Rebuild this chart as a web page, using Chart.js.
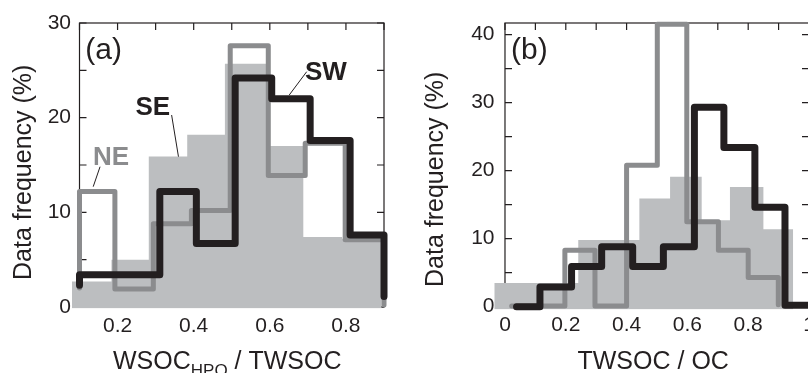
<!DOCTYPE html>
<html>
<head>
<meta charset="utf-8">
<title>Data frequency histograms</title>
<script src="https://cdn.jsdelivr.net/npm/chart.js@4.4.1/dist/chart.umd.min.js"></script>
<style>
  html, body { margin: 0; padding: 0; background: #ffffff; overflow: hidden; }
  #wrap { position: relative; width: 808px; height: 373px; overflow: hidden; background: #ffffff; }
  #wrap canvas { position: absolute; top: 0; }
  #chartA { left: 0; }
  #chartB { left: 404px; }
</style>
</head>
<body>
<div id="wrap">
  <canvas id="chartA" width="404" height="373"></canvas>
  <canvas id="chartB" width="405" height="373"></canvas>
</div>
<script>
// ---------------- panel (a): WSOC_HPO / TWSOC ----------------
const aXTickLabels = ['0.2', '0.4', '0.6', '0.8'];
const aYTickLabels = ['0', '10', '20', '30'];
// histogram steps: edge x and the level that starts at that edge (last = end level)
const aSEEdges  = [0.080, 0.184, 0.282, 0.383, 0.482, 0.591, 0.688, 0.790, 0.894];
const aSEValues = [2.7, 5.0, 15.9, 18.2, 25.7, 17.0, 7.4, 7.2, 0];
const aNEEdges  = [0.1, 0.1, 0.193, 0.294, 0.394, 0.496, 0.596, 0.693, 0.798, 0.9];
const aNEValues = [2.0, 12.2, 1.9, 8.8, 10.2, 27.6, 13.9, 17.3, 7.1, 0.2];
const aSWEdges  = [0.1, 0.1, 0.311, 0.407, 0.509, 0.605, 0.706, 0.811, 0.9];
const aSWValues = [2.3, 3.4, 12.2, 6.7, 24.2, 22.0, 17.6, 7.6, 1.1];

// ---------------- panel (b): TWSOC / OC ----------------
const bXTickLabels = ['0', '0.2', '0.4', '0.6', '0.8', '1'];
const bYTickLabels = ['0', '10', '20', '30', '40'];
const bSEEdges  = [-0.038, 0.241, 0.442, 0.543, 0.647, 0.740, 0.850, 0.948];
const bSEValues = [3.5, 9.8, 15.9, 19.1, 12.7, 17.6, 11.4, 0];
const bNEEdges  = [0.022, 0.197, 0.296, 0.400, 0.501, 0.598, 0.702, 0.800, 0.899];
const bNEValues = [0.1, 8.3, 0.1, 20.8, 41.5, 12.5, 8.3, 4.3, 0.3];
const bSWEdges  = [0.038, 0.115, 0.219, 0.318, 0.420, 0.521, 0.623, 0.720, 0.822, 0.921, 1.0];
const bSWValues = [0, 2.9, 5.9, 8.8, 5.9, 8.8, 29.3, 23.4, 14.6, 0.2, 0.2];

// ---------------- styles ----------------
const FONT = "'Liberation Sans', Arial, Helvetica, sans-serif";
const INK = '#231f20';
const NE_COLOR = '#8b8c8e';
const SE_COLOR = '#bcbec0';
const SW_COLOR = '#231f20';
const TICK_LEN = 7;

function labelFor(v, labels) {
  const l = labels.find(t => Math.abs(parseFloat(t) - v) < 1e-6);
  return l === undefined ? '' : l;
}
function toPoints(edges, values) {
  return edges.map((x, i) => ({ x: x, y: values[i] }));
}

const panelPlugin = {
  id: 'panel',
  beforeDatasetsDraw(chart, args, o) {
    const ctx = chart.ctx, xs = chart.scales.x, ys = chart.scales.y;
    const L = xs.getPixelForValue(o.xFrom), R = xs.getPixelForValue(o.xTo);
    const B = ys.getPixelForValue(o.yFrom), T = ys.getPixelForValue(o.yTo);
    ctx.save();
    ctx.strokeStyle = INK;
    ctx.lineWidth = 1.2;
    ctx.strokeRect(L, T, R - L, B - T);
    ctx.beginPath();
    xs.ticks.forEach(t => {
      if (t.value < o.xFrom - 1e-9 || t.value > o.xTo + 1e-9) return;
      const p = xs.getPixelForValue(t.value);
      ctx.moveTo(p, T); ctx.lineTo(p, T + TICK_LEN);
      ctx.moveTo(p, B); ctx.lineTo(p, B - TICK_LEN);
    });
    ys.ticks.forEach(t => {
      if (t.value < o.yFrom - 1e-9 || t.value > o.yTo + 1e-9) return;
      const p = ys.getPixelForValue(t.value);
      ctx.moveTo(L, p); ctx.lineTo(L + TICK_LEN, p);
      ctx.moveTo(R, p); ctx.lineTo(R - TICK_LEN, p);
    });
    ctx.stroke();
    ctx.restore();
  },
  afterDraw(chart, args, o) {
    const ctx = chart.ctx, xs = chart.scales.x, ys = chart.scales.y;
    ctx.save();
    ctx.textAlign = 'left';
    ctx.textBaseline = 'alphabetic';
    // panel letter
    ctx.fillStyle = INK;
    ctx.font = '30px ' + FONT;
    ctx.fillText(o.letter.text, xs.getPixelForValue(o.letter.x), ys.getPixelForValue(o.letter.y));
    // series labels with leader lines
    (o.notes || []).forEach(n => {
      ctx.font = 'bold 26px ' + FONT;
      ctx.fillStyle = n.color;
      ctx.fillText(n.text, xs.getPixelForValue(n.x), ys.getPixelForValue(n.y));
      ctx.strokeStyle = INK;
      ctx.lineWidth = 1;
      ctx.beginPath();
      ctx.moveTo(xs.getPixelForValue(n.lead[0][0]), ys.getPixelForValue(n.lead[0][1]));
      ctx.lineTo(xs.getPixelForValue(n.lead[1][0]), ys.getPixelForValue(n.lead[1][1]));
      ctx.stroke();
    });
    // y title
    ctx.fillStyle = INK;
    ctx.save();
    ctx.translate(o.yTitle.x - o.offsetX, o.yTitle.y);
    ctx.rotate(-Math.PI / 2);
    ctx.font = '25px ' + FONT;
    ctx.fillText(o.yTitle.text, 0, 0);
    ctx.restore();
    // x title (with optional subscript parts)
    let x = o.xTitle.x - o.offsetX;
    o.xTitle.parts.forEach(p => {
      ctx.font = p.size + 'px ' + FONT;
      ctx.fillText(p.text, x, o.xTitle.y + (p.dy || 0));
      x += ctx.measureText(p.text).width;
    });
    ctx.restore();
  }
};

function histChart(canvasId, c) {
  return new Chart(document.getElementById(canvasId), {
    type: 'line',
    data: {
      datasets: [
        { label: 'SW', data: toPoints(c.swEdges, c.swValues), borderColor: SW_COLOR, borderWidth: 7,
          stepped: 'before', fill: false, pointRadius: 0, borderCapStyle: 'round', borderJoinStyle: 'round',
          clip: false, order: 0 },
        { label: 'NE', data: toPoints(c.neEdges, c.neValues), borderColor: NE_COLOR, borderWidth: 5,
          stepped: 'before', fill: false, pointRadius: 0, borderCapStyle: 'round', borderJoinStyle: 'round',
          clip: false, order: 1 },
        { label: 'SE', data: toPoints(c.seEdges, c.seValues), borderColor: 'rgba(0,0,0,0)', borderWidth: 1,
          backgroundColor: SE_COLOR, stepped: 'before', fill: { value: c.yMin }, pointRadius: 0,
          clip: false, order: 2 }
      ]
    },
    options: {
      responsive: false,
      animation: false,
      devicePixelRatio: 1,
      events: [],
      layout: { padding: { top: 23, right: c.padRight, bottom: 0, left: 0 } },
      plugins: {
        legend: { display: false },
        tooltip: { enabled: false },
        panel: c.panel
      },
      scales: {
        x: {
          type: 'linear', position: 'bottom', min: c.xMin, max: c.xMax,
          grid: { display: false, drawTicks: false }, border: { display: false },
          ticks: { stepSize: 0.1, autoSkip: false, maxRotation: 0, minRotation: 0, includeBounds: false,
                   padding: c.xPad, color: INK, font: { family: FONT, size: 21 },
                   callback: v => labelFor(v, c.xLabels) },
          afterFit: s => { s.height = c.xHeight; s.paddingLeft = 0; s.paddingRight = 0; }
        },
        y: {
          type: 'linear', position: 'left', min: c.yMin, max: c.yMax,
          grid: { display: false, drawTicks: false }, border: { display: false },
          ticks: { stepSize: 5, autoSkip: false, includeBounds: false,
                   padding: c.yPad, color: INK, font: { family: FONT, size: 21 },
                   callback: v => labelFor(v, c.yLabels) },
          afterFit: s => { s.width = c.yWidth; s.paddingTop = 0; s.paddingBottom = 0; }
        }
      }
    },
    plugins: [panelPlugin]
  });
}

histChart('chartA', {
  seEdges: aSEEdges, seValues: aSEValues, neEdges: aNEEdges, neValues: aNEValues,
  swEdges: aSWEdges, swValues: aSWValues,
  xLabels: aXTickLabels, yLabels: aYTickLabels,
  xMin: 0.08, xMax: 0.9, yMin: -0.15, yMax: 30,
  xHeight: 64.58, yWidth: 71.89, padRight: 20, xPad: 5.5, yPad: 0.9,
  panel: {
    offsetX: 0, xFrom: 0.1, xTo: 0.9, yFrom: 0, yTo: 30,
    letter: { text: '(a)', x: 0.115, y: 26.2 },
    notes: [
      { text: 'NE', x: 0.1355, y: 15.0, color: NE_COLOR, lead: [[0.154, 14.82], [0.136, 12.71]] },
      { text: 'SE', x: 0.247, y: 20.28, color: INK, lead: [[0.342, 20.28], [0.36, 15.88]] },
      { text: 'SW', x: 0.6925, y: 23.98, color: INK, lead: [[0.697, 24.86], [0.651, 22.39]] }
    ],
    yTitle: { text: 'Data frequency (%)', x: 31, y: 280 },
    xTitle: { x: 113, y: 369, parts: [
      { text: 'WSOC', size: 25 }, { text: 'HPO', size: 17, dy: 7 }, { text: ' / TWSOC', size: 25 }
    ] }
  }
});

histChart('chartB', {
  seEdges: bSEEdges, seValues: bSEValues, neEdges: bNEEdges, neValues: bNEValues,
  swEdges: bSWEdges, swValues: bSWValues,
  xLabels: bXTickLabels, yLabels: bYTickLabels,
  xMin: -0.0345, xMax: 1.0, yMin: -0.4, yMax: 41.7,
  xHeight: 63.58, yWidth: 90.5, padRight: 0, xPad: 3.5, yPad: 0,
  panel: {
    offsetX: 404, xFrom: 0, xTo: 1.0, yFrom: 0, yTo: 41.7,
    letter: { text: '(b)', x: 0.0197, y: 36.45 },
    notes: [],
    yTitle: { text: 'Data frequency (%)', x: 442.5, y: 287 },
    xTitle: { x: 577.5, y: 369, parts: [ { text: 'TWSOC / OC', size: 25 } ] }
  }
});
</script>
</body>
</html>
